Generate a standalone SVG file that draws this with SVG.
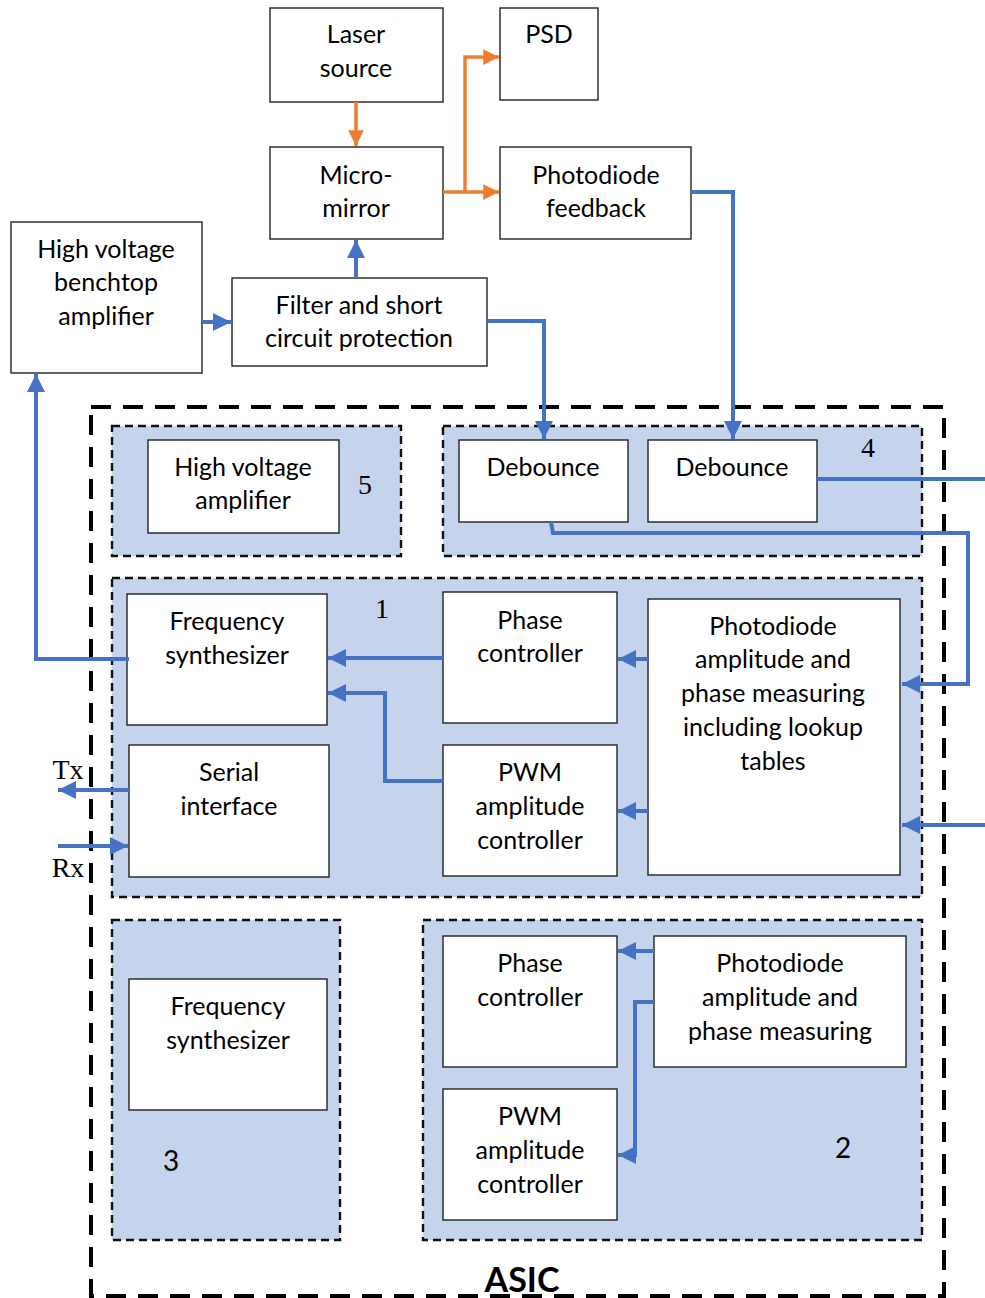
<svg xmlns="http://www.w3.org/2000/svg" width="985" height="1298" viewBox="0 0 985 1298">
  <style>
    .box { fill: #ffffff; stroke: #222222; stroke-width: 1.4; }
    .region { fill: #c5d4ec; stroke: #111111; stroke-width: 2.4; stroke-dasharray: 8 5; }
    .asic { fill: none; stroke: #000000; stroke-width: 4; stroke-dasharray: 20 12; }
    .lbl { font-family: Lato, "Liberation Sans", sans-serif; font-size: 25px; fill: #000000; text-anchor: middle; }
    .num { font-family: "Liberation Serif", serif; font-size: 28px; fill: #000000; text-anchor: middle; }
    .numsans { font-family: Lato, "Liberation Sans", sans-serif; font-size: 28px; fill: #000000; text-anchor: middle; }
    .blue { fill: none; stroke: #4472c4; stroke-width: 4; }
    .orange { fill: none; stroke: #ed7d31; stroke-width: 3.5; }
  </style>
  <defs>
    <marker id="ahBlue" viewBox="0 0 10 10" refX="10" refY="5" markerWidth="4.5" markerHeight="4.5" orient="auto" markerUnits="strokeWidth">
      <path d="M0,0 L10,5 L0,10 z" fill="#4472c4"/>
    </marker>
    <marker id="ahOrange" viewBox="0 0 10 10" refX="10" refY="5" markerWidth="4.5" markerHeight="4.5" orient="auto" markerUnits="strokeWidth">
      <path d="M0,0 L10,5 L0,10 z" fill="#ed7d31"/>
    </marker>
  </defs>

  <!-- ASIC boundary -->
  <g id="asic">
    <rect class="asic" x="91" y="407" width="853" height="889"/>
    <text x="522" y="1292" font-family="Lato, 'Liberation Sans', sans-serif" font-size="34" font-weight="bold" text-anchor="middle">ASIC</text>
  </g>

  <!-- sub-blocks -->
  <g id="region5">
    <rect class="region" x="112" y="426" width="289" height="130"/>
    <text class="num" x="365" y="494">5</text>
  </g>
  <g id="region4">
    <rect class="region" x="443" y="426" width="479" height="130"/>
    <text class="num" x="868" y="457">4</text>
  </g>
  <g id="region1">
    <rect class="region" x="112" y="578" width="810" height="319"/>
    <text class="num" x="382" y="618">1</text>
  </g>
  <g id="region3">
    <rect class="region" x="112" y="920" width="228" height="320"/>
    <text class="numsans" x="171" y="1171">3</text>
  </g>
  <g id="region2">
    <rect class="region" x="423" y="920" width="499" height="320"/>
    <text class="numsans" x="843" y="1158">2</text>
  </g>

  <!-- external blocks -->
  <g id="laser">
    <rect class="box" x="270" y="8" width="173" height="94"/>
    <text class="lbl" x="356" y="43">Laser</text>
    <text class="lbl" x="356" y="77">source</text>
  </g>
  <g id="psd">
    <rect class="box" x="500" y="8" width="98" height="92"/>
    <text class="lbl" x="549" y="43">PSD</text>
  </g>
  <g id="micromirror">
    <rect class="box" x="270" y="147" width="173" height="92"/>
    <text class="lbl" x="356" y="184">Micro-</text>
    <text class="lbl" x="356" y="217">mirror</text>
  </g>
  <g id="pdfeedback">
    <rect class="box" x="500" y="147" width="191" height="92"/>
    <text class="lbl" x="596" y="184">Photodiode</text>
    <text class="lbl" x="596" y="217">feedback</text>
  </g>
  <g id="hvbench">
    <rect class="box" x="11" y="222" width="191" height="151"/>
    <text class="lbl" x="106" y="258">High voltage</text>
    <text class="lbl" x="106" y="291">benchtop</text>
    <text class="lbl" x="106" y="325">amplifier</text>
  </g>
  <g id="filter">
    <rect class="box" x="232" y="278" width="255" height="88"/>
    <text class="lbl" x="359" y="314">Filter and short</text>
    <text class="lbl" x="359" y="347">circuit protection</text>
  </g>

  <!-- ASIC blocks -->
  <g id="hvamp">
    <rect class="box" x="148" y="440" width="191" height="93"/>
    <text class="lbl" x="243" y="476">High voltage</text>
    <text class="lbl" x="243" y="509">amplifier</text>
  </g>
  <g id="debounce1">
    <rect class="box" x="459" y="440" width="169" height="82"/>
    <text class="lbl" x="543" y="476">Debounce</text>
  </g>
  <g id="debounce2">
    <rect class="box" x="648" y="440" width="169" height="82"/>
    <text class="lbl" x="732" y="476">Debounce</text>
  </g>
  <g id="freqsynth1">
    <rect class="box" x="127" y="594" width="200" height="131"/>
    <text class="lbl" x="227" y="630">Frequency</text>
    <text class="lbl" x="227" y="664">synthesizer</text>
  </g>
  <g id="phasectrl1">
    <rect class="box" x="443" y="592" width="174" height="131"/>
    <text class="lbl" x="530" y="629">Phase</text>
    <text class="lbl" x="530" y="662">controller</text>
  </g>
  <g id="pdmeasure1">
    <rect class="box" x="648" y="599" width="252" height="276"/>
    <text class="lbl" x="773" y="635">Photodiode</text>
    <text class="lbl" x="773" y="668">amplitude and</text>
    <text class="lbl" x="773" y="702">phase measuring</text>
    <text class="lbl" x="773" y="736">including lookup</text>
    <text class="lbl" x="773" y="770">tables</text>
  </g>
  <g id="serial">
    <rect class="box" x="129" y="745" width="200" height="132"/>
    <text class="lbl" x="229" y="781">Serial</text>
    <text class="lbl" x="229" y="815">interface</text>
  </g>
  <g id="pwm1">
    <rect class="box" x="443" y="745" width="174" height="131"/>
    <text class="lbl" x="530" y="781">PWM</text>
    <text class="lbl" x="530" y="815">amplitude</text>
    <text class="lbl" x="530" y="849">controller</text>
  </g>
  <g id="freqsynth3">
    <rect class="box" x="129" y="979" width="198" height="131"/>
    <text class="lbl" x="228" y="1015">Frequency</text>
    <text class="lbl" x="228" y="1049">synthesizer</text>
  </g>
  <g id="phasectrl2">
    <rect class="box" x="443" y="936" width="174" height="131"/>
    <text class="lbl" x="530" y="972">Phase</text>
    <text class="lbl" x="530" y="1006">controller</text>
  </g>
  <g id="pwm2">
    <rect class="box" x="443" y="1089" width="174" height="131"/>
    <text class="lbl" x="530" y="1125">PWM</text>
    <text class="lbl" x="530" y="1159">amplitude</text>
    <text class="lbl" x="530" y="1193">controller</text>
  </g>
  <g id="pdmeasure2">
    <rect class="box" x="654" y="936" width="252" height="131"/>
    <text class="lbl" x="780" y="972">Photodiode</text>
    <text class="lbl" x="780" y="1006">amplitude and</text>
    <text class="lbl" x="780" y="1040">phase measuring</text>
  </g>

  <!-- Tx / Rx labels -->
  <g id="txrx">
    <text x="68" y="779" font-family="'Liberation Serif', serif" font-size="28" text-anchor="middle">Tx</text>
    <text x="68" y="877" font-family="'Liberation Serif', serif" font-size="28" text-anchor="middle">Rx</text>
  </g>

  <!-- connectors -->
  <g id="connectors">
    <!-- optical path -->
    <path class="orange" d="M356,102 V146" marker-end="url(#ahOrange)"/>
    <path class="orange" d="M443,192 H499" marker-end="url(#ahOrange)"/>
    <path class="orange" d="M465,192 V57 H499" marker-end="url(#ahOrange)"/>

    <!-- drive chain -->
    <path class="blue" d="M202,322 H231" marker-end="url(#ahBlue)"/>
    <path class="blue" d="M356,278 V240" marker-end="url(#ahBlue)"/>
    <path class="blue" d="M487,321 H544 V439" marker-end="url(#ahBlue)"/>
    <path class="blue" d="M691,192 H733 V439" marker-end="url(#ahBlue)"/>

    <!-- debounce outputs -->
    <path class="blue" d="M817,479 H985"/>
    <path class="blue" d="M551,522 L553,533 H968 V684 H902" marker-end="url(#ahBlue)"/>
    <path class="blue" d="M985,825 H902" marker-end="url(#ahBlue)"/>

    <!-- region 1 internal -->
    <path class="blue" d="M443,658 H328" marker-end="url(#ahBlue)"/>
    <path class="blue" d="M443,781 H385 V693 H328" marker-end="url(#ahBlue)"/>
    <path class="blue" d="M648,659 H618" marker-end="url(#ahBlue)"/>
    <path class="blue" d="M648,811 H618" marker-end="url(#ahBlue)"/>

    <!-- feedback to benchtop amplifier -->
    <path class="blue" d="M129,659 H36 V374" marker-end="url(#ahBlue)"/>

    <!-- serial link -->
    <path class="blue" d="M129,790 H58" marker-end="url(#ahBlue)"/>
    <path class="blue" d="M58,846 H128" marker-end="url(#ahBlue)"/>

    <!-- region 2 internal -->
    <path class="blue" d="M654,951 H618" marker-end="url(#ahBlue)"/>
    <path class="blue" d="M654,1002 H635 V1155 H618" marker-end="url(#ahBlue)"/>
  </g>
</svg>
